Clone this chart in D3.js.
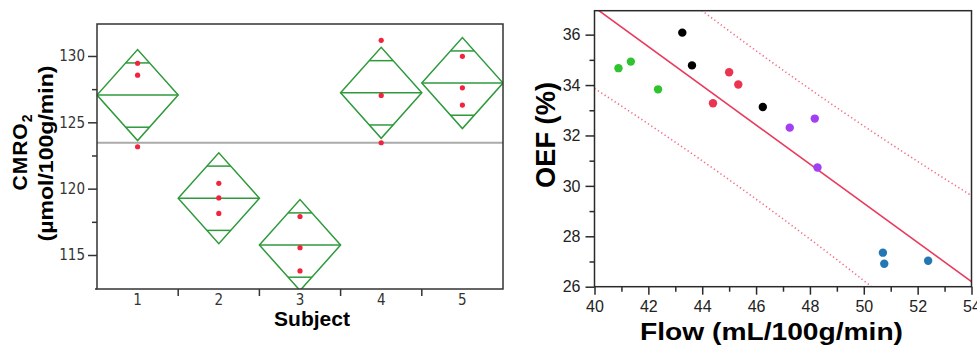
<!DOCTYPE html>
<html>
<head>
<meta charset="utf-8">
<script src="https://cdn.jsdelivr.net/npm/d3@7"></script>
<style>
  html, body { margin: 0; padding: 0; background: #fff; }
  svg { display: block; }
</style>
</head>
<body>
<svg id="chart" width="977" height="345"></svg>
<script>
// ---------------- DATA ----------------
// Left panel: CMRO2 per subject (3 measurements each)
const subjects = ["1", "2", "3", "4", "5"];
const cmroSubject1 = [129.45, 128.55, 123.16];
const cmroSubject2 = [120.40, 119.30, 118.13];
const cmroSubject3 = [117.90, 115.55, 113.80];
const cmroSubject4 = [131.18, 127.03, 123.46];
const cmroSubject5 = [129.97, 127.60, 126.30];
const cmroValues = [cmroSubject1, cmroSubject2, cmroSubject3, cmroSubject4, cmroSubject5];
const tCritAnova = 2.228;          // t(0.975, df = 10)
const yTicksLeft = [115, 120, 125, 130];
const yMinorLeft = [117.5, 122.5, 127.5];

// Right panel: OEF vs Flow, one group per subject
const groupNames = ["green", "black", "red", "purple", "blue"];
const flowGreen  = [40.89, 41.35, 42.36];
const oefGreen   = [34.67, 34.93, 33.83];
const flowBlack  = [43.26, 43.62, 46.25];
const oefBlack   = [36.08, 34.78, 33.13];
const flowRed    = [44.40, 45.00, 45.34];
const oefRed     = [33.28, 34.51, 34.02];
const flowPurple = [47.25, 48.18, 48.28];
const oefPurple  = [32.31, 32.67, 30.73];
const flowBlue   = [50.71, 50.76, 52.39];
const oefBlue    = [27.35, 26.91, 27.03];
const flowGroups = [flowGreen, flowBlack, flowRed, flowPurple, flowBlue];
const oefGroups  = [oefGreen, oefBlack, oefRed, oefPurple, oefBlue];
const tCritPred = 2.160;           // t(0.975, df = 13)
const xTicksRight = [40, 42, 44, 46, 48, 50, 52, 54];
const xMinorRight = [41, 43, 45, 47, 49, 51, 53];
const yTicksRight = [26, 28, 30, 32, 34, 36];
const yMinorRight = [27, 29, 31, 33, 35];

// ---------------- STYLES ----------------
const groupColors = ["#2fc42f", "#000000", "#ea3550", "#a33ff2", "#2577b3"];
const diamondColor = "#2e9a3c";
const pointColorLeft = "#f2233f";
const axisColor = "#2a2a2a";

const svg = d3.select("#chart");

// ================= LEFT PANEL =================
const L = { left: 97, right: 503, top: 24, bottom: 289 };
const xL = d3.scaleBand().domain(subjects).range([L.left, L.right]).padding(0);
const yL = d3.scaleLinear().domain([112.437, 132.41]).range([L.bottom, L.top]);

const defs = svg.append("defs");
defs.append("clipPath").attr("id", "clipL").append("rect")
  .attr("x", L.left).attr("y", L.top).attr("width", L.right - L.left).attr("height", L.bottom - L.top);

const gL = svg.append("g");

// statistics
const means = cmroValues.map(v => d3.mean(v));
const allVals = cmroValues.flat();
const grandMean = d3.mean(means);
let ssw = 0;
cmroValues.forEach((v, i) => v.forEach(d => { ssw += (d - means[i]) ** 2; }));
const dfw = allVals.length - subjects.length;
const sPooled = Math.sqrt(ssw / dfw);

// grand mean line
gL.append("line")
  .attr("x1", L.left).attr("x2", L.right)
  .attr("y1", yL(grandMean)).attr("y2", yL(grandMean))
  .attr("stroke", "#aaaaaa").attr("stroke-width", 2);

// diamonds
const dg = gL.append("g").attr("clip-path", "url(#clipL)");
subjects.forEach((s, i) => {
  const n = cmroValues[i].length;
  const hw = tCritAnova * sPooled / Math.sqrt(n);
  const m = means[i];
  const x0 = xL(s), x1 = xL(s) + xL.bandwidth(), xc = xL(s) + xL.bandwidth() / 2;
  const bw = xL.bandwidth();
  dg.append("path")
    .attr("d", `M${x0},${yL(m)}L${xc},${yL(m + hw)}L${x1},${yL(m)}L${xc},${yL(m - hw)}Z`)
    .attr("fill", "none").attr("stroke", diamondColor).attr("stroke-width", 1.5);
  dg.append("line").attr("x1", x0).attr("x2", x1).attr("y1", yL(m)).attr("y2", yL(m))
    .attr("stroke", diamondColor).attr("stroke-width", 1.5);
  const off = hw / Math.SQRT2;
  const half = bw / 2 * (1 - off / hw);
  [m + off, m - off].forEach(v => {
    dg.append("line").attr("x1", xc - half).attr("x2", xc + half).attr("y1", yL(v)).attr("y2", yL(v))
      .attr("stroke", diamondColor).attr("stroke-width", 1.5);
  });
  gL.selectAll(null).data(cmroValues[i]).enter().append("circle")
    .attr("cx", xc).attr("cy", d => yL(d)).attr("r", 2.6).attr("fill", pointColorLeft);
});

// frame
gL.append("rect").attr("x", L.left).attr("y", L.top)
  .attr("width", L.right - L.left).attr("height", L.bottom - L.top)
  .attr("fill", "none").attr("stroke", "#333").attr("stroke-width", 1.5);

const leftTickFont = "'DejaVu Sans Condensed', 'DejaVu Sans', sans-serif";
// y axis
const yAxL = gL.append("g").attr("transform", `translate(${L.left},0)`)
  .call(d3.axisLeft(yL).tickValues(yTicksLeft).tickSize(9).tickSizeOuter(0).tickPadding(3).tickFormat(d3.format("d")));
yAxL.append("g").call(d3.axisLeft(yL).tickValues(yMinorLeft).tickSize(5).tickSizeOuter(0).tickFormat(""));
yAxL.selectAll("path.domain").remove();
yAxL.selectAll("line").attr("stroke", "#333").attr("stroke-width", 1.5);
yAxL.selectAll("text").attr("font-family", leftTickFont).attr("font-stretch", "condensed")
  .attr("font-size", 15).attr("fill", "#333");

// x axis
const xAxL = gL.append("g").attr("transform", `translate(0,${L.bottom})`)
  .call(d3.axisBottom(xL).tickSize(0).tickPadding(5));
xAxL.selectAll("path.domain").remove();
xAxL.selectAll("text").attr("font-family", leftTickFont).attr("font-stretch", "condensed")
  .attr("font-size", 15).attr("fill", "#333");
xAxL.selectAll(null).data(subjects.slice(1)).enter().append("line")
  .attr("x1", d => xL(d)).attr("x2", d => xL(d)).attr("y1", 0).attr("y2", 7)
  .attr("stroke", "#333").attr("stroke-width", 1.5);
gL.append("line").attr("x1", L.left - 2).attr("x2", L.left).attr("y1", L.bottom).attr("y2", L.bottom)
  .attr("stroke", "#333").attr("stroke-width", 1.5);

// axis titles
const boldFont = "'Liberation Sans', Arial, Helvetica, sans-serif";
gL.append("text").attr("x", 312).attr("y", 326).attr("text-anchor", "middle")
  .attr("font-family", boldFont).attr("font-weight", "bold").attr("font-size", 21).attr("fill", "#000")
  .text("Subject");
const t1 = gL.append("text").attr("transform", "translate(27,152) rotate(-90)").attr("text-anchor", "middle")
  .attr("font-family", boldFont).attr("font-weight", "bold").attr("font-size", 21).attr("fill", "#000")
  .attr("letter-spacing", 1);
t1.append("tspan").text("CMRO");
t1.append("tspan").attr("font-size", 14).attr("dy", 5).text("2");
gL.append("text").attr("transform", "translate(53,153.5) rotate(-90)").attr("text-anchor", "middle")
  .attr("font-family", boldFont).attr("font-weight", "bold").attr("font-size", 20).attr("fill", "#000")
  .attr("textLength", 176).attr("lengthAdjust", "spacingAndGlyphs")
  .text("(\u00b5mol/100g/min)");

// ================= RIGHT PANEL =================
const R = { left: 594.5, right: 971.5, top: 10.7, bottom: 286.7 };
const xR = d3.scaleLinear().domain([40, 54]).range([R.left, R.right]);
const yR = d3.scaleLinear().domain([26, 36.95]).range([R.bottom, R.top]);
defs.append("clipPath").attr("id", "clipR").append("rect")
  .attr("x", R.left).attr("y", R.top).attr("width", R.right - R.left).attr("height", R.bottom - R.top);

const gR = svg.append("g");

// regression from all points
const fx = flowGroups.flat(), fy = oefGroups.flat();
const nPts = fx.length;
const mx = d3.mean(fx), my = d3.mean(fy);
const sxx = d3.sum(fx, d => (d - mx) ** 2);
const sxy = d3.sum(fx.map((d, i) => (d - mx) * (fy[i] - my)));
const slope = sxy / sxx, intercept = my - slope * mx;
const sse = d3.sum(fx.map((d, i) => (fy[i] - (intercept + slope * d)) ** 2));
const sRes = Math.sqrt(sse / (nPts - 2));
const xs = d3.range(40, 54.001, 0.1);
const predHalf = x => tCritPred * sRes * Math.sqrt(1 + 1 / nPts + (x - mx) ** 2 / sxx);

const lineGen = d3.line().x(d => xR(d[0])).y(d => yR(d[1]));
const cg = gR.append("g").attr("clip-path", "url(#clipR)");
cg.append("path").datum(xs.map(x => [x, intercept + slope * x + predHalf(x)]))
  .attr("d", lineGen).attr("fill", "none").attr("stroke", "#f27085")
  .attr("stroke-width", 1.6).attr("stroke-dasharray", "1.3,2.7");
cg.append("path").datum(xs.map(x => [x, intercept + slope * x - predHalf(x)]))
  .attr("d", lineGen).attr("fill", "none").attr("stroke", "#f27085")
  .attr("stroke-width", 1.6).attr("stroke-dasharray", "1.3,2.7");
cg.append("path").datum([[40, intercept + slope * 40], [54, intercept + slope * 54]])
  .attr("d", lineGen).attr("fill", "none").attr("stroke", "#ea3a5c").attr("stroke-width", 1.6);

// points
groupNames.forEach((g, i) => {
  gR.selectAll(null).data(flowGroups[i].map((f, j) => [f, oefGroups[i][j]])).enter().append("circle")
    .attr("cx", d => xR(d[0])).attr("cy", d => yR(d[1])).attr("r", 4.2).attr("fill", groupColors[i]);
});

// frame
gR.append("rect").attr("x", R.left).attr("y", R.top)
  .attr("width", R.right - R.left).attr("height", R.bottom - R.top)
  .attr("fill", "none").attr("stroke", axisColor).attr("stroke-width", 1.5);

const rightTickFont = "'Liberation Sans', Arial, Helvetica, sans-serif";
const yAxR = gR.append("g").attr("transform", `translate(${R.left},0)`)
  .call(d3.axisLeft(yR).tickValues(yTicksRight).tickSize(9).tickSizeOuter(0).tickPadding(5).tickFormat(d3.format("d")));
yAxR.append("g").call(d3.axisLeft(yR).tickValues(yMinorRight).tickSize(5).tickSizeOuter(0).tickFormat(""));
yAxR.selectAll("path.domain").remove();
yAxR.selectAll("line").attr("stroke", axisColor).attr("stroke-width", 1.5);
yAxR.selectAll("text").attr("font-family", rightTickFont).attr("font-size", 16).attr("fill", "#222");

const xAxR = gR.append("g").attr("transform", `translate(0,${R.bottom})`)
  .call(d3.axisBottom(xR).tickValues(xTicksRight).tickSize(8).tickSizeOuter(0).tickPadding(6).tickFormat(d3.format("d")));
xAxR.append("g").call(d3.axisBottom(xR).tickValues(xMinorRight).tickSize(5).tickSizeOuter(0).tickFormat(""));
xAxR.selectAll("path.domain").remove();
xAxR.selectAll("line").attr("stroke", axisColor).attr("stroke-width", 1.5);
xAxR.selectAll("text").attr("font-family", rightTickFont).attr("font-size", 16).attr("fill", "#222");

gR.append("text").attr("x", 771.5).attr("y", 340).attr("text-anchor", "middle")
  .attr("font-family", boldFont).attr("font-weight", "bold").attr("font-size", 24).attr("fill", "#000")
  .attr("textLength", 263).attr("lengthAdjust", "spacingAndGlyphs")
  .text("Flow (mL/100g/min)");
gR.append("text").attr("transform", "translate(555,135) rotate(-90)").attr("text-anchor", "middle")
  .attr("font-family", boldFont).attr("font-weight", "bold").attr("font-size", 28).attr("fill", "#000")
  .attr("textLength", 106).attr("lengthAdjust", "spacingAndGlyphs")
  .text("OEF (%)");
</script>
</body>
</html>
